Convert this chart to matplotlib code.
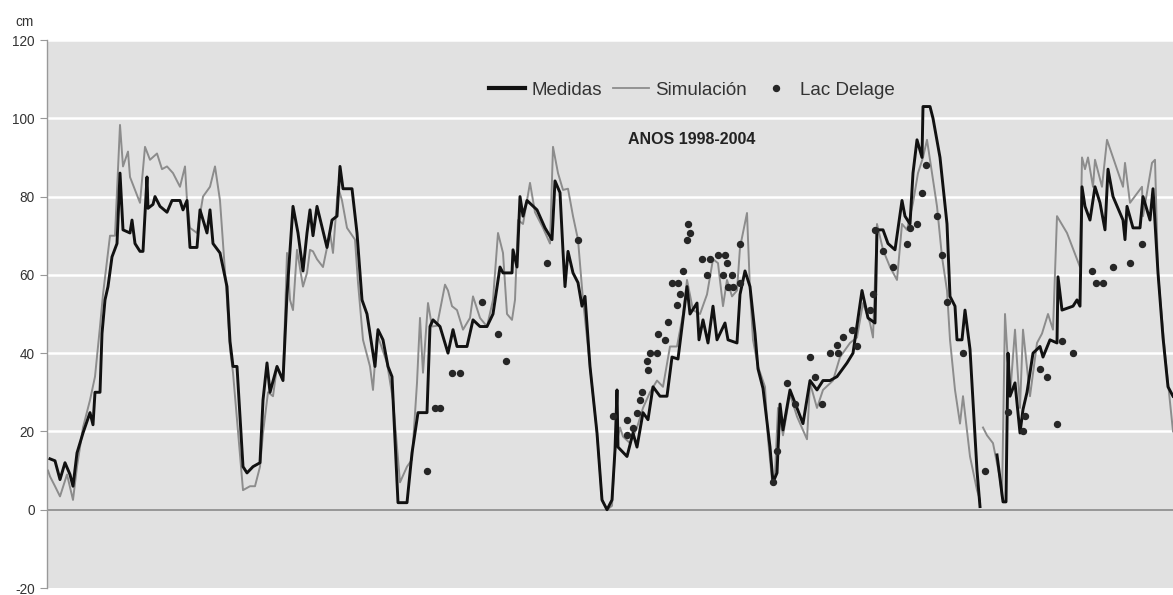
import numpy as np
import matplotlib
matplotlib.use("Agg")
import matplotlib.pyplot as plt
from matplotlib.lines import Line2D

plt.rcParams['font.family'] = ['Liberation Sans', 'DejaVu Sans']

nan = np.nan
# Medidas (measured), x = day index along the 1998-2004 record
med_x = [50, 55, 60, 65, 70, 73, 77, 83, 90, 93, 95, 100, 102, 105, 108, 112, 117, 120, 123, 130,
         132, 135, 140, 143, 147, 148, 153, 155, 160, 167, 172, 180, 183, 187, 190, 197, 200, 207, 210, 213,
         220, 227, 230, 233, 237, 243, 247, 253, 260, 263, 267, 270, 277, 283, 287, 293, 298, 303, 307, 310,
         313, 317, 327, 332, 337, 340, 343, 352, 357, 362, 367, 375, 378, 383, 388, 392, 398, 407, 412, 418,
         427, 430, 433, 440, 448, 453, 457, 467, 473, 480, 487, 493, 500, 503, 512, 513, 517, 520, 523, 527,
         537, 545, 552, 555, 560, 563, 565, 568, 573, 578, 582, 585, 590, 597, 602, 607, 612, 615, 617, 618,
         627, 633, 637, 643, 648, 653, 660, 667, 672, 678, 682, 687, 690, 697, 699, 703, 708, 713, 717, 725,
         728, 737, 740, 745, 750, 755, 758, 763, 770, 773, 777, 780, 783, 790, 797, 803, 810, 817, 823, 830,
         837, 847, 853, 862, 868, 875, 877, 883, 888, 895, 902, 905, 910, 913, 917, 922, 923, 930, 933, 940,
         947, 950, 955, 957, 962, 965, 970, 977, 980, 990, 997, 1003, 1006, 1008, 1010, 1015, 1020, 1023, 1027, 1033,
         1040, 1043, 1050, 1057, 1058, 1062, 1073, 1077, 1080, 1082, 1085, 1090, 1095, 1100, 1105, 1108, 1113, 1123, 1125, 1127,
         1133, 1140, 1143, 1150, 1153, 1158, 1163, 1168, 1173]
med_y = [13, 12.5, 7.7, 12, 9, 6, 14.5, 19.6, 24.8, 21.7, 30, 30, 45, 53.6, 57, 64.6, 68, 86, 71.5, 70.7,
         74, 68, 66, 66, 85, 77, 78, 80, 77.5, 76, 79, 79, 76.6, 79, 67, 67, 76.6, 70.7, 76.6, 68,
         65.6, 57, 43, 36.6, 36.6, 11, 9.4, 11, 12, 28, 37.5, 30, 36.6, 33, 55, 77.5, 70.7, 61, 70.7, 76.6,
         70, 77.5, 67, 74, 75, 87.7, 82, 82, 70.7, 53.6, 50, 36.6, 46, 43.4, 36.6, 34, 1.8, 1.8, 14.5, 24.8,
         24.8, 46.8, 48.5, 46.8, 40, 46, 41.7, 41.7, 48.5, 46.8, 46.8, 50, 62, 60.5, 60.5, 66.4, 62, 80, 75, 79,
         76.6, 72, 69, 84, 81, 66, 57, 66, 60.5, 58, 52, 54.5, 36.6, 19.6, 2.5, 0, 2.5, 15.3, 30.6, 16,
         13.6, 19.6, 16, 24.8, 23, 31.4, 29, 29, 39, 38.5, 46.8, 57, 50, 52.8, 43.4, 48.5, 42.6, 52, 43.4, 47.7,
         43.4, 42.6, 55, 61, 57, 45, 36, 31, 16, 7, 9.4, 27, 20.4, 30.6, 26, 22, 33, 30.6, 33, 33,
         34, 37.5, 40, 56, 49, 47.7, 71.5, 71.5, 68, 66.4, 79, 75, 73, 86, 94.5, 90, 103, 103, 100, 90,
         73, 54.5, 52, 43.4, 43.4, 51, 41, 10, 0.8, nan, 14, 2, 2, 40, 29, 32.4, 19.6, 25.6, 30, 40,
         41.7, 39, 43.4, 42.6, 59.5, 51, 52, 53.6, 52, 82.5, 77.5, 74, 82.5, 78.4, 71.5, 87, 80, 74, 69, 77.5,
         72, 72, 80, 74, 82, 60.5, 44, 31.4, 29]

# Simulación
sim_x = [48, 50, 55, 60, 67, 73, 77, 83, 90, 95, 100, 103, 110, 115, 120, 123, 128, 130, 140, 145,
         150, 157, 162, 167, 173, 180, 185, 187, 190, 197, 203, 210, 215, 220, 227, 230, 233, 243, 250, 255,
         260, 263, 268, 273, 277, 283, 287, 290, 293, 297, 303, 307, 310, 313, 317, 323, 330, 333, 338, 342,
         347, 355, 358, 363, 370, 373, 377, 387, 393, 400, 407, 412, 417, 420, 423, 428, 432, 437, 445, 448,
         452, 457, 463, 470, 473, 480, 487, 493, 498, 503, 507, 512, 515, 518, 523, 530, 535, 543, 550, 553,
         558, 563, 568, 573, 578, 583, 590, 597, 602, 607, 612, 615, 620, 623, 630, 637, 643, 650, 657, 663,
         670, 677, 683, 687, 693, 700, 707, 713, 718, 723, 727, 732, 737, 740, 747, 750, 753, 758, 765, 768,
         772, 775, 778, 783, 790, 797, 807, 810, 817, 823, 833, 840, 850, 857, 863, 870, 873, 877, 883, 890,
         897, 902, 907, 913, 918, 923, 927, 932, 937, 942, 947, 950, 955, 960, 963, 970, 977, 980, 981, 983,
         987, 993, 1000, 1002, 1005, 1010, 1015, 1020, 1023, 1030, 1037, 1042, 1048, 1053, 1057, 1067, 1077, 1080, 1082, 1085,
         1088, 1093, 1095, 1102, 1107, 1117, 1123, 1125, 1130, 1142, 1143, 1152, 1155, 1158, 1165, 1173]
sim_y = [10, 8.5, 6, 3.4, 9, 2.5, 11, 21, 28, 34, 46.8, 55, 70, 70, 98.3, 87.7, 91.5, 85, 78.4, 92.7,
         89.4, 91, 87, 87.7, 86, 82.5, 87.7, 79, 72, 70.7, 80, 82.5, 87.7, 79, 53.6, 41, 35, 5, 6, 6,
         11, 19.6, 30, 29, 36.6, 33, 65.6, 53.6, 51, 66.4, 57, 60.5, 66.4, 66, 64, 62, 70.7, 65.6, 82.5, 79,
         72, 69, 58, 43.4, 36.6, 30.6, 45, 37.5, 28, 7, 11, 12.8, 32.4, 49, 35, 52.8, 46.8, 47, 57.5, 56,
         52, 51, 46, 49, 54.5, 49, 46.8, 53.6, 70.7, 65.6, 50, 48.5, 53.6, 74, 73, 83.5, 76, 72, 68, 92.7,
         86, 81.7, 82, 75, 69, 53.6, 36.6, 19.6, 2.5, 0, 1, 15, 21, 18.7, 17, 21, 26, 30, 33, 31.4,
         41.7, 41.7, 50, 58.7, 51, 50, 55, 64, 63, 52, 58.7, 54.5, 56, 67, 75.8, 56, 43.4, 36.6, 31.4, 18,
         7.7, 9, 26, 19, 29.5, 23.8, 18, 32.4, 26, 30.6, 33, 39, 42.6, 44, 52.8, 47.7, 44, 73, 66.4, 62,
         58.7, 73, 71.5, 78.4, 86, 90, 94.5, 86, 77.5, 64.6, 56, 43.4, 30.6, 22, 29, 13.6, 5, 2.5, nan, 21,
         19, 17, 8, 3, 50, 29, 46, 26, 46, 29, 42.6, 45, 50, 46, 75, 70.7, 64, 62, 90, 87,
         90, 82.5, 89.4, 82.5, 94.5, 87, 82.5, 88.6, 78.4, 82.5, 75, 88.6, 89.4, 60.5, 40, 20]

# Lac Delage
lac_x = [427, 435, 440, 452, 460, 482, 498, 506, 547, 578, 613, 627, 627, 633, 637, 640, 642, 647, 648, 650,
         657, 658, 665, 668, 672, 677, 678, 680, 683, 687, 688, 690, 702, 707, 710, 718, 723, 725, 727, 728,
         732, 733, 740, 740, 773, 777, 787, 795, 810, 815, 822, 830, 837, 838, 843, 852, 857, 870, 873, 875,
         883, 893, 907, 910, 917, 922, 926, 937, 942, 947, 963, 985, 1008, 1023, 1025, 1040, 1047, 1057, 1062, 1073,
         1092, 1096, 1103, 1113, 1130, 1142]
lac_y = [10, 26, 26, 35, 35, 53, 45, 38, 63, 69, 24, 23, 19, 21, 24.8, 28, 30, 38, 35.8, 40,
         40, 45, 43.4, 48, 58, 52.4, 58, 55, 61, 69, 73, 70.7, 64, 60, 64, 65, 60, 65, 63, 57,
         60, 57, 58, 68, 7, 15, 32.4, 27, 39, 34, 27, 40, 42, 40, 44, 46, 41.7, 51, 55, 71.5,
         66, 62, 68, 72, 73, 81, 88, 75, 65, 53, 40, 10, 25, 20, 24, 36, 34, 22, 43, 40,
         61, 58, 58, 62, 63, 68]

y_ticks = [-20, 0, 20, 40, 60, 80, 100, 120]

fig = plt.figure(figsize=(11.73, 5.95), dpi=100)
ax = fig.add_axes([47/1173, 1 - 588/595, 1 - 47/1173, (588 - 40)/595])
ax.set_facecolor('#e1e1e1')
ax.set_xlim(47, 1173)
ax.set_ylim(-20, 120)

for t in y_ticks[2:]:
    ax.axhline(t, color='white', lw=1.8, zorder=1)
ax.axhline(0, color='#8a8a8a', lw=1.2, zorder=2)

ax.plot(sim_x, sim_y, color='#8c8c8c', lw=1.4, zorder=3)
ax.plot(med_x, med_y, color='#111111', lw=2.1, zorder=4)
ax.plot(lac_x, lac_y, linestyle='none', marker='o', ms=4.3, color='#262626', zorder=5)

ax.set_yticks(y_ticks)
ax.set_yticklabels([str(t) for t in y_ticks])
ax.set_xticks([])
ax.tick_params(axis='y', direction='out', length=5, width=0.8, color='#999999',
               labelsize=9.8, labelcolor='#333333', pad=4)
for s in ['top', 'right', 'bottom']:
    ax.spines[s].set_visible(False)
ax.spines['left'].set_color('#999999')
ax.spines['left'].set_linewidth(1.0)

fig.text(24/1173, 1 - 22/595, 'cm', ha='center', va='center', fontsize=9.8, color='#333333')

handles = [Line2D([], [], color='#111111', lw=3.0),
           Line2D([], [], color='#8c8c8c', lw=1.3),
           Line2D([], [], linestyle='none', marker='o', ms=4.3, color='#262626')]
ax.legend(handles, ['Medidas', 'Simulación', 'Lac Delage'], loc='center',
          bbox_to_anchor=((692 - 47) / 1126, (588 - 90) / 548), ncol=3, frameon=False,
          fontsize=13.5, handlelength=1.9, handletextpad=0.35, columnspacing=0.6,
          labelcolor='#333333')

ax.text((692 - 47) / 1126, (588 - 140) / 548, 'ANOS 1998-2004', transform=ax.transAxes,
        ha='center', va='center', fontsize=11.5, fontweight='bold', color='#222222')

fig.savefig('out.png', dpi=100, facecolor='white')
